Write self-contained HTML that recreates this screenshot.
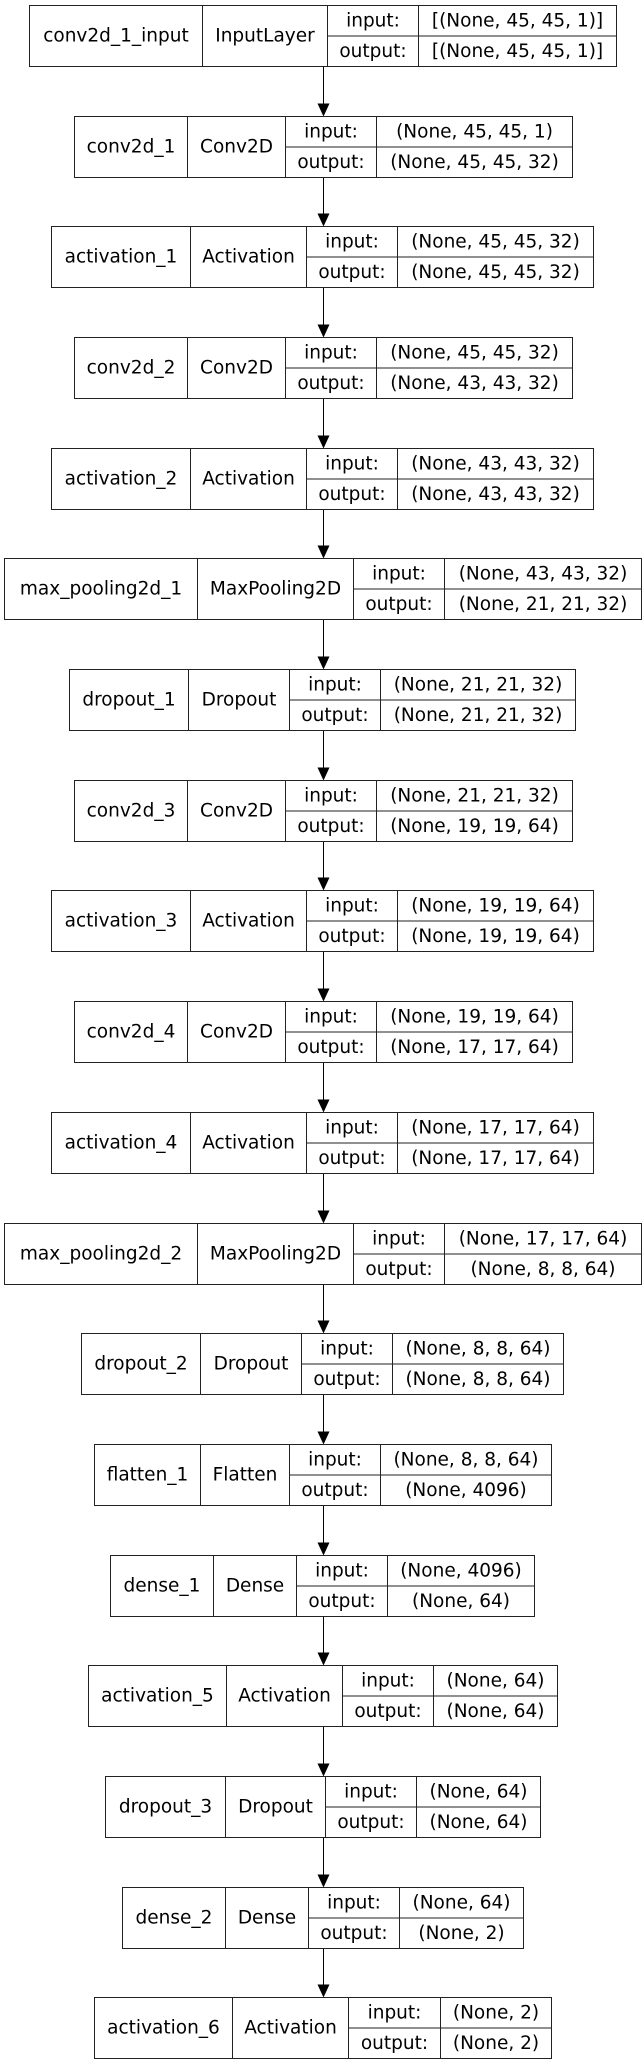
<!DOCTYPE html>
<html><head><meta charset="utf-8"><style>
html,body{margin:0;padding:0;background:#fff;}
svg{display:block;}
text{font-family:"DejaVu Sans","Liberation Sans",sans-serif;font-size:18.5px;fill:#000;text-anchor:middle;dominant-baseline:central;}
rect,path.b{fill:none;stroke:#222;stroke-width:1;}
line{stroke:#000;stroke-width:1;}
polygon{fill:#000;}
</style></head><body>
<svg width="643" height="2065" viewBox="0 0 643 2065" xmlns="http://www.w3.org/2000/svg">
<!-- arrows -->
<g>
<line x1="323.5" y1="66.5" x2="323.5" y2="103.5"/><polygon points="317.5,103.5 329.5,103.5 323.5,116.5"/>
<line x1="323.5" y1="177.5" x2="323.5" y2="213.5"/><polygon points="317.5,213.5 329.5,213.5 323.5,226.5"/>
<line x1="323.5" y1="287.5" x2="323.5" y2="324.5"/><polygon points="317.5,324.5 329.5,324.5 323.5,337.5"/>
<line x1="323.5" y1="398.5" x2="323.5" y2="435.5"/><polygon points="317.5,435.5 329.5,435.5 323.5,448.5"/>
<line x1="323.5" y1="509.5" x2="323.5" y2="545.5"/><polygon points="317.5,545.5 329.5,545.5 323.5,558.5"/>
<line x1="323.5" y1="619.5" x2="323.5" y2="656.5"/><polygon points="317.5,656.5 329.5,656.5 323.5,669.5"/>
<line x1="323.5" y1="730.5" x2="323.5" y2="767.5"/><polygon points="317.5,767.5 329.5,767.5 323.5,780.5"/>
<line x1="323.5" y1="841.5" x2="323.5" y2="877.5"/><polygon points="317.5,877.5 329.5,877.5 323.5,890.5"/>
<line x1="323.5" y1="951.5" x2="323.5" y2="988.5"/><polygon points="317.5,988.5 329.5,988.5 323.5,1001.5"/>
<line x1="323.5" y1="1062.5" x2="323.5" y2="1099.5"/><polygon points="317.5,1099.5 329.5,1099.5 323.5,1112.5"/>
<line x1="323.5" y1="1173.5" x2="323.5" y2="1210.5"/><polygon points="317.5,1210.5 329.5,1210.5 323.5,1223.5"/>
<line x1="323.5" y1="1284.5" x2="323.5" y2="1320.5"/><polygon points="317.5,1320.5 329.5,1320.5 323.5,1333.5"/>
<line x1="323.5" y1="1394.5" x2="323.5" y2="1431.5"/><polygon points="317.5,1431.5 329.5,1431.5 323.5,1444.5"/>
<line x1="323.5" y1="1505.5" x2="323.5" y2="1542.5"/><polygon points="317.5,1542.5 329.5,1542.5 323.5,1555.5"/>
<line x1="323.5" y1="1616.5" x2="323.5" y2="1652.5"/><polygon points="317.5,1652.5 329.5,1652.5 323.5,1665.5"/>
<line x1="323.5" y1="1726.5" x2="323.5" y2="1763.5"/><polygon points="317.5,1763.5 329.5,1763.5 323.5,1776.5"/>
<line x1="323.5" y1="1837.5" x2="323.5" y2="1874.5"/><polygon points="317.5,1874.5 329.5,1874.5 323.5,1887.5"/>
<line x1="323.5" y1="1948.5" x2="323.5" y2="1984.5"/><polygon points="317.5,1984.5 329.5,1984.5 323.5,1997.5"/>
</g>

<g transform="translate(0,5.5)"><rect x="29.5" y="0" width="587" height="61"/><path class="b" d="M202.5 0V61M327.5 0V61M418.5 0V61M327.5 30.5H616.5"/>
<text x="116" y="30.5">conv2d_1_input</text><text x="265" y="30.5">InputLayer</text><text x="373" y="15.5">input:</text><text x="517.5" y="15.5">[(None, 45, 45, 1)]</text><text x="373" y="46">output:</text><text x="517.5" y="46">[(None, 45, 45, 1)]</text></g>

<g transform="translate(0,116.5)"><rect x="74.5" y="0" width="498" height="61"/><path class="b" d="M187.5 0V61M285.5 0V61M376.5 0V61M285.5 30.5H572.5"/>
<text x="131" y="30.5">conv2d_1</text><text x="236.5" y="30.5">Conv2D</text><text x="331" y="15.5">input:</text><text x="474.5" y="15.5">(None, 45, 45, 1)</text><text x="331" y="46">output:</text><text x="474.5" y="46">(None, 45, 45, 32)</text></g>

<g transform="translate(0,226.5)"><rect x="51.5" y="0" width="542" height="61"/><path class="b" d="M190.5 0V61M306.5 0V61M397.5 0V61M306.5 30.5H593.5"/>
<text x="121" y="30.5">activation_1</text><text x="248.5" y="30.5">Activation</text><text x="352" y="15.5">input:</text><text x="495.5" y="15.5">(None, 45, 45, 32)</text><text x="352" y="46">output:</text><text x="495.5" y="46">(None, 45, 45, 32)</text></g>

<g transform="translate(0,337.5)"><rect x="74.5" y="0" width="498" height="61"/><path class="b" d="M187.5 0V61M285.5 0V61M376.5 0V61M285.5 30.5H572.5"/>
<text x="131" y="30.5">conv2d_2</text><text x="236.5" y="30.5">Conv2D</text><text x="331" y="15.5">input:</text><text x="474.5" y="15.5">(None, 45, 45, 32)</text><text x="331" y="46">output:</text><text x="474.5" y="46">(None, 43, 43, 32)</text></g>

<g transform="translate(0,448.5)"><rect x="51.5" y="0" width="542" height="61"/><path class="b" d="M190.5 0V61M306.5 0V61M397.5 0V61M306.5 30.5H593.5"/>
<text x="121" y="30.5">activation_2</text><text x="248.5" y="30.5">Activation</text><text x="352" y="15.5">input:</text><text x="495.5" y="15.5">(None, 43, 43, 32)</text><text x="352" y="46">output:</text><text x="495.5" y="46">(None, 43, 43, 32)</text></g>

<g transform="translate(0,558.5)"><rect x="4.5" y="0" width="637" height="61"/><path class="b" d="M197.5 0V61M353.5 0V61M444.5 0V61M353.5 30.5H641.5"/>
<text x="101" y="30.5">max_pooling2d_1</text><text x="275.5" y="30.5">MaxPooling2D</text><text x="399" y="15.5">input:</text><text x="543" y="15.5">(None, 43, 43, 32)</text><text x="399" y="46">output:</text><text x="543" y="46">(None, 21, 21, 32)</text></g>

<g transform="translate(0,669.5)"><rect x="69.5" y="0" width="506" height="61"/><path class="b" d="M188.5 0V61M289.5 0V61M380.5 0V61M289.5 30.5H575.5"/>
<text x="129" y="30.5">dropout_1</text><text x="239" y="30.5">Dropout</text><text x="335" y="15.5">input:</text><text x="478" y="15.5">(None, 21, 21, 32)</text><text x="335" y="46">output:</text><text x="478" y="46">(None, 21, 21, 32)</text></g>

<g transform="translate(0,780.5)"><rect x="74.5" y="0" width="498" height="61"/><path class="b" d="M187.5 0V61M285.5 0V61M376.5 0V61M285.5 30.5H572.5"/>
<text x="131" y="30.5">conv2d_3</text><text x="236.5" y="30.5">Conv2D</text><text x="331" y="15.5">input:</text><text x="474.5" y="15.5">(None, 21, 21, 32)</text><text x="331" y="46">output:</text><text x="474.5" y="46">(None, 19, 19, 64)</text></g>

<g transform="translate(0,890.5)"><rect x="51.5" y="0" width="542" height="61"/><path class="b" d="M190.5 0V61M306.5 0V61M397.5 0V61M306.5 30.5H593.5"/>
<text x="121" y="30.5">activation_3</text><text x="248.5" y="30.5">Activation</text><text x="352" y="15.5">input:</text><text x="495.5" y="15.5">(None, 19, 19, 64)</text><text x="352" y="46">output:</text><text x="495.5" y="46">(None, 19, 19, 64)</text></g>

<g transform="translate(0,1001.5)"><rect x="74.5" y="0" width="498" height="61"/><path class="b" d="M187.5 0V61M285.5 0V61M376.5 0V61M285.5 30.5H572.5"/>
<text x="131" y="30.5">conv2d_4</text><text x="236.5" y="30.5">Conv2D</text><text x="331" y="15.5">input:</text><text x="474.5" y="15.5">(None, 19, 19, 64)</text><text x="331" y="46">output:</text><text x="474.5" y="46">(None, 17, 17, 64)</text></g>

<g transform="translate(0,1112.5)"><rect x="51.5" y="0" width="542" height="61"/><path class="b" d="M190.5 0V61M306.5 0V61M397.5 0V61M306.5 30.5H593.5"/>
<text x="121" y="30.5">activation_4</text><text x="248.5" y="30.5">Activation</text><text x="352" y="15.5">input:</text><text x="495.5" y="15.5">(None, 17, 17, 64)</text><text x="352" y="46">output:</text><text x="495.5" y="46">(None, 17, 17, 64)</text></g>

<g transform="translate(0,1223.5)"><rect x="4.5" y="0" width="637" height="61"/><path class="b" d="M197.5 0V61M353.5 0V61M444.5 0V61M353.5 30.5H641.5"/>
<text x="101" y="30.5">max_pooling2d_2</text><text x="275.5" y="30.5">MaxPooling2D</text><text x="399" y="15.5">input:</text><text x="543" y="15.5">(None, 17, 17, 64)</text><text x="399" y="46">output:</text><text x="543" y="46">(None, 8, 8, 64)</text></g>

<g transform="translate(0,1333.5)"><rect x="81.5" y="0" width="482" height="61"/><path class="b" d="M200.5 0V61M301.5 0V61M392.5 0V61M301.5 30.5H563.5"/>
<text x="141" y="30.5">dropout_2</text><text x="251" y="30.5">Dropout</text><text x="347" y="15.5">input:</text><text x="478" y="15.5">(None, 8, 8, 64)</text><text x="347" y="46">output:</text><text x="478" y="46">(None, 8, 8, 64)</text></g>

<g transform="translate(0,1444.5)"><rect x="94.5" y="0" width="457" height="61"/><path class="b" d="M200.5 0V61M289.5 0V61M380.5 0V61M289.5 30.5H551.5"/>
<text x="147.5" y="30.5">flatten_1</text><text x="245" y="30.5">Flatten</text><text x="335" y="15.5">input:</text><text x="466" y="15.5">(None, 8, 8, 64)</text><text x="335" y="46">output:</text><text x="466" y="46">(None, 4096)</text></g>

<g transform="translate(0,1555.5)"><rect x="110.5" y="0" width="424" height="61"/><path class="b" d="M213.5 0V61M296.5 0V61M387.5 0V61M296.5 30.5H534.5"/>
<text x="162" y="30.5">dense_1</text><text x="255" y="30.5">Dense</text><text x="342" y="15.5">input:</text><text x="461" y="15.5">(None, 4096)</text><text x="342" y="46">output:</text><text x="461" y="46">(None, 64)</text></g>

<g transform="translate(0,1665.5)"><rect x="88.5" y="0" width="469" height="61"/><path class="b" d="M226.5 0V61M342.5 0V61M433.5 0V61M342.5 30.5H557.5"/>
<text x="157.5" y="30.5">activation_5</text><text x="284.5" y="30.5">Activation</text><text x="388" y="15.5">input:</text><text x="495.5" y="15.5">(None, 64)</text><text x="388" y="46">output:</text><text x="495.5" y="46">(None, 64)</text></g>

<g transform="translate(0,1776.5)"><rect x="105.5" y="0" width="435" height="61"/><path class="b" d="M225.5 0V61M325.5 0V61M416.5 0V61M325.5 30.5H540.5"/>
<text x="165.5" y="30.5">dropout_3</text><text x="275.5" y="30.5">Dropout</text><text x="371" y="15.5">input:</text><text x="478.5" y="15.5">(None, 64)</text><text x="371" y="46">output:</text><text x="478.5" y="46">(None, 64)</text></g>

<g transform="translate(0,1887.5)"><rect x="122.5" y="0" width="401" height="61"/><path class="b" d="M225.5 0V61M308.5 0V61M399.5 0V61M308.5 30.5H523.5"/>
<text x="174" y="30.5">dense_2</text><text x="267" y="30.5">Dense</text><text x="354" y="15.5">input:</text><text x="461.5" y="15.5">(None, 64)</text><text x="354" y="46">output:</text><text x="461.5" y="46">(None, 2)</text></g>

<g transform="translate(0,1997.5)"><rect x="94.5" y="0" width="457" height="61"/><path class="b" d="M232.5 0V61M348.5 0V61M440.5 0V61M348.5 30.5H551.5"/>
<text x="163.5" y="30.5">activation_6</text><text x="290.5" y="30.5">Activation</text><text x="394.5" y="15.5">input:</text><text x="496" y="15.5">(None, 2)</text><text x="394.5" y="46">output:</text><text x="496" y="46">(None, 2)</text></g>
</svg>
</body></html>
